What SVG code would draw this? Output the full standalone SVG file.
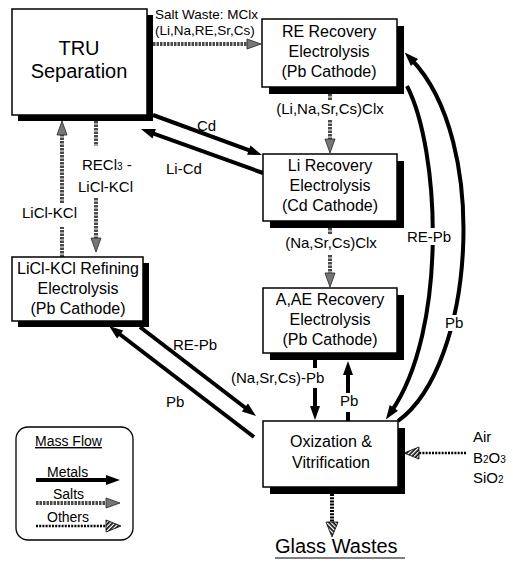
<svg xmlns="http://www.w3.org/2000/svg" width="513" height="562" viewBox="0 0 513 562">
<style>
text{font-family:"Liberation Sans",Arial,sans-serif;fill:#000}
.box{fill:#fff;stroke:#000;stroke-width:1.5}
.sh{fill:#000}
.bt{font-size:16px;text-anchor:middle}
.lb{font-size:15px}
.metal{stroke:#000;stroke-width:4;fill:none}
.salt{stroke:#4a4a4a;stroke-width:4;stroke-dasharray:2.5 1;fill:none}
.other{stroke:#000;stroke-width:2.5;stroke-dasharray:2 1.2;fill:none}
</style>
<defs>
<pattern id="hatch" width="3" height="3" patternUnits="userSpaceOnUse" patternTransform="rotate(45)">
<rect width="3" height="3" fill="#fff"/><rect width="1.6" height="3" fill="#000"/>
</pattern>
<marker id="mm" markerUnits="userSpaceOnUse" markerWidth="15" markerHeight="11" refX="5" refY="5" orient="auto" viewBox="0 0 15 10" overflow="visible">
<path d="M0,0 L14,5 L0,10 z" fill="#000"/>
</marker>
<marker id="ms" markerUnits="userSpaceOnUse" markerWidth="15" markerHeight="11" refX="5" refY="5" orient="auto" viewBox="0 0 15 10" overflow="visible">
<path d="M0,0 L14,5 L0,10 z" fill="#777" stroke="#222" stroke-width="0.8"/>
</marker>
<marker id="mo" markerUnits="userSpaceOnUse" markerWidth="16" markerHeight="13" refX="5" refY="6" orient="auto" viewBox="0 0 16 12" overflow="visible">
<path d="M0,0 L15,6 L0,12 z" fill="url(#hatch)" stroke="#000" stroke-width="0.8"/>
</marker>
</defs>

<g id="connectors">
<path class="salt" d="M153 44 H252" marker-end="url(#ms)"/>
<path class="salt" d="M330 94 V100"/>
<path class="salt" d="M330 120 V144" marker-end="url(#ms)"/>
<path class="salt" d="M330 228 V234"/>
<path class="salt" d="M330 255 V278" marker-end="url(#ms)"/>
<path class="salt" d="M62 257 V227"/>
<path class="salt" d="M62 203 V130" marker-end="url(#ms)"/>
<path class="salt" d="M96 121 V146"/>
<path class="salt" d="M96 198 V243" marker-end="url(#ms)"/>
<path class="metal" d="M153 115 L253.5 151.9" marker-end="url(#mm)"/>
<path class="metal" d="M263 173 L149.5 132.1" marker-end="url(#mm)"/>
<path class="metal" d="M140 327 L248.9 410.5" marker-end="url(#mm)"/>
<path class="metal" d="M254 437 L116.2 331.5" marker-end="url(#mm)"/>
<path class="metal" d="M315 360 V368"/>
<path class="metal" d="M315 388 V411" marker-end="url(#mm)"/>
<path class="metal" d="M348 421 V412"/>
<path class="metal" d="M348 393 V370" marker-end="url(#mm)"/>
<path class="metal" d="M398 421 C475 365 490 140 411 59" marker-end="url(#mm)"/>
<path class="metal" d="M407 86 C440 150 448 330 391 412" marker-end="url(#mm)"/>
<path class="other" d="M466 453 H414" marker-end="url(#mo)"/>
<path class="other" d="M332 494 V527" style="stroke-width:4" marker-end="url(#mo)"/>
</g>

<g id="edge-labels">
<text class="lb" x="155" y="19" style="font-size:13.5px">Salt Waste: MClx</text>
<text class="lb" x="155" y="35" style="font-size:13.5px">(Li,Na,RE,Sr,Cs)</text>
<text class="lb" x="330" y="114" text-anchor="middle">(Li,Na,Sr,Cs)Clx</text>
<text class="lb" x="331" y="248" text-anchor="middle">(Na,Sr,Cs)Clx</text>
<text class="lb" x="197" y="131">Cd</text>
<text class="lb" x="166" y="174">Li-Cd</text>
<text class="lb" x="82" y="170">RECl<tspan font-size="10">3</tspan> -</text>
<text class="lb" x="78" y="192">LiCl-KCl</text>
<text class="lb" x="22" y="218">LiCl-KCl</text>
<text class="lb" x="173" y="350">RE-Pb</text>
<text class="lb" x="166" y="407">Pb</text>
<text class="lb" x="231" y="383">(Na,Sr,Cs)-Pb</text>
<text class="lb" x="340" y="406">Pb</text>
<rect x="404" y="228" width="52" height="17" fill="#fff"/>
<text class="lb" x="407" y="242">RE-Pb</text>
<rect x="443" y="315" width="21" height="16" fill="#fff"/>
<text class="lb" x="445" y="328">Pb</text>
<text class="lb" x="473" y="442">Air</text>
<text class="lb" x="473" y="463">B<tspan font-size="10">2</tspan>O<tspan font-size="10">3</tspan></text>
<text class="lb" x="473" y="483">SiO<tspan font-size="10">2</tspan></text>
</g>

<g id="tru">
<rect class="sh" x="18" y="15" width="135" height="106"/>
<rect class="box" x="12" y="9" width="135" height="106"/>
<text class="bt" x="79" y="55" style="font-size:20px">TRU</text>
<text class="bt" x="79" y="78" style="font-size:20px">Separation</text>
</g>

<g id="re-recovery">
<rect class="sh" x="269" y="26" width="135" height="68"/>
<rect class="box" x="262" y="19" width="135" height="68"/>
<text class="bt" x="329" y="37">RE Recovery</text>
<text class="bt" x="329" y="57">Electrolysis</text>
<text class="bt" x="329" y="77">(Pb Cathode)</text>
</g>

<g id="li-recovery">
<rect class="sh" x="270" y="161" width="134" height="67"/>
<rect class="box" x="263" y="154" width="134" height="67"/>
<text class="bt" x="330" y="171">Li Recovery</text>
<text class="bt" x="330" y="191">Electrolysis</text>
<text class="bt" x="330" y="211">(Cd Cathode)</text>
</g>

<g id="aae-recovery">
<rect class="sh" x="270" y="295" width="134" height="65"/>
<rect class="box" x="263" y="288" width="134" height="65"/>
<text class="bt" x="330" y="305">A,AE Recovery</text>
<text class="bt" x="330" y="325">Electrolysis</text>
<text class="bt" x="330" y="345">(Pb Cathode)</text>
</g>

<g id="licl-refining">
<rect class="sh" x="18" y="263" width="131" height="64"/>
<rect class="box" x="12" y="257" width="131" height="64"/>
<text class="bt" x="78" y="274">LiCl-KCl Refining</text>
<text class="bt" x="78" y="294">Electrolysis</text>
<text class="bt" x="78" y="314">(Pb Cathode)</text>
</g>

<g id="oxization">
<rect class="sh" x="270" y="428" width="135" height="66"/>
<rect class="box" x="263" y="421" width="135" height="66"/>
<text class="bt" x="331" y="447">Oxization &amp;</text>
<text class="bt" x="331" y="468">Vitrification</text>
</g>

<g id="glass-wastes">
<text x="275" y="553" style="font-size:20px">Glass Wastes</text>
<line x1="275" y1="558" x2="405" y2="558" stroke="#000" stroke-width="1.2"/>
</g>

<g id="legend">
<rect x="16" y="427" width="117" height="113" rx="12" fill="#fff" stroke="#000" stroke-width="1.3"/>
<text x="35" y="446" style="font-size:14px" text-decoration="underline">Mass Flow</text>
<text x="47" y="477" style="font-size:14px">Metals</text>
<path class="metal" d="M36 480 H111" marker-end="url(#mm)"/>
<text x="53" y="499" style="font-size:14px">Salts</text>
<path class="salt" d="M36 503 H111" marker-end="url(#ms)"/>
<text x="47" y="522" style="font-size:14px">Others</text>
<path class="other" d="M36 526 H111" marker-end="url(#mo)"/>
</g>
</svg>
